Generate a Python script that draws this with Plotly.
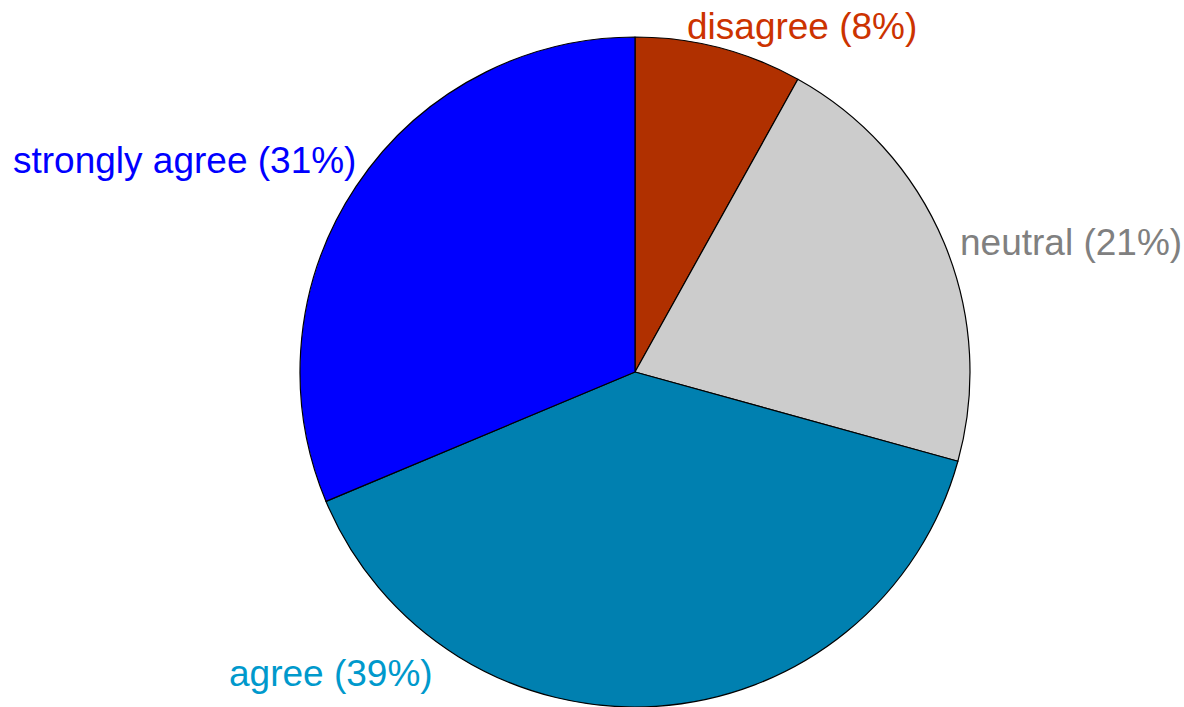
import plotly.graph_objects as go

categories = ["disagree", "neutral", "agree", "strongly agree"]
values = [8, 21, 39, 31]
slice_colors = ["#B03000", "#CCCCCC", "#0080B0", "#0000FF"]
label_colors = ["#CC3300", "#808080", "#0099CC", "#0000FF"]

W, H = 1184, 707

fig = go.Figure()
fig.add_trace(go.Pie(
    labels=categories,
    values=values,
    sort=False,
    direction="clockwise",
    rotation=0,
    textinfo="none",
    hoverinfo="label+percent",
    marker=dict(colors=slice_colors, line=dict(color="#000000", width=1.2)),
    domain=dict(x=[(635 - 335) / W, (635 + 335) / W], y=[0, 670 / H]),
    showlegend=False,
))

# label placement (pixel anchors)
label_pos = {
    "disagree": (685, 27, "left"),
    "neutral": (958, 242, "left"),
    "agree": (435, 673, "right"),
    "strongly agree": (358, 160, "right"),
}
for cat, val, col in zip(categories, values, label_colors):
    px, py, anchor = label_pos[cat]
    fig.add_annotation(
        x=px / W, y=1 - py / H, xref="paper", yref="paper",
        xanchor=anchor, yanchor="middle", showarrow=False,
        text=f"{cat} ({val}%)",
        font=dict(family="Liberation Sans, Arial, Helvetica, sans-serif", size=37, color=col),
    )

fig.update_layout(
    width=W, height=H,
    margin=dict(l=0, r=0, t=0, b=0),
    paper_bgcolor="white", plot_bgcolor="white",
)
fig.write_html("out.html")
